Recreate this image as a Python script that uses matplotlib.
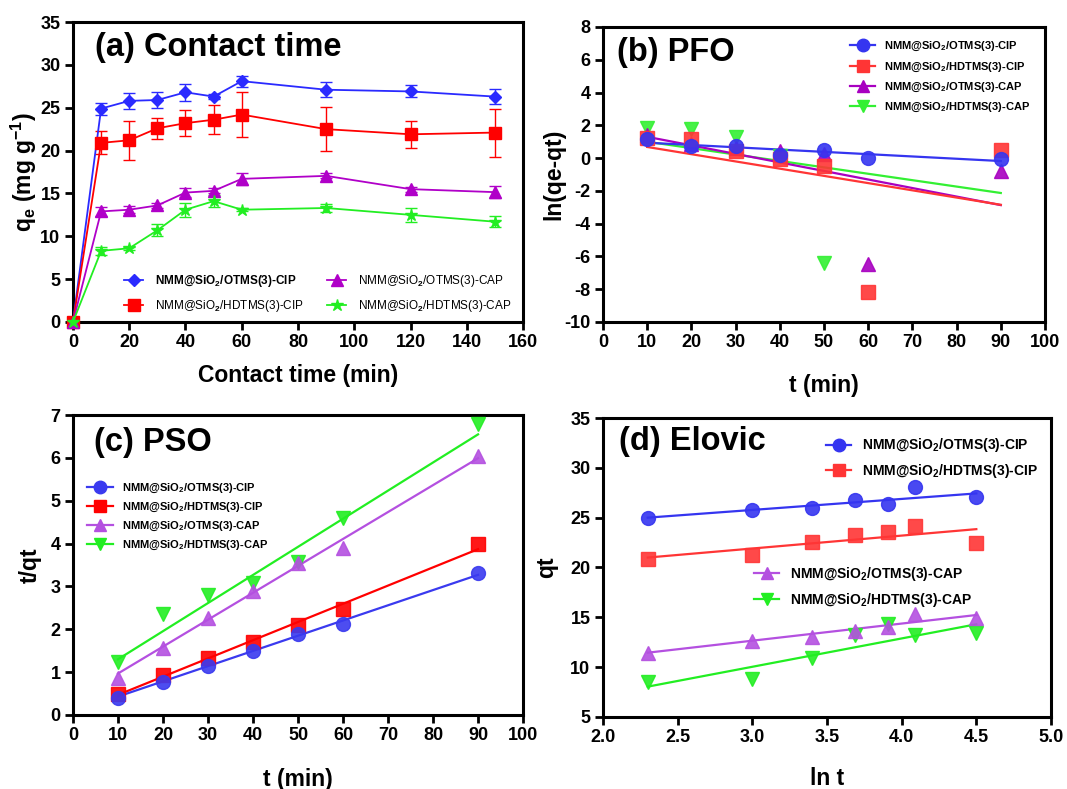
import matplotlib
matplotlib.use('Agg')
import matplotlib.pyplot as plt
from matplotlib.lines import Line2D
import numpy as np

plt.rcParams['font.family'] = ['Liberation Sans', 'DejaVu Sans']
plt.rcParams['font.weight'] = 'bold'
plt.rcParams['mathtext.fontset'] = 'custom'
plt.rcParams['mathtext.rm'] = 'Liberation Sans:bold'
plt.rcParams['mathtext.default'] = 'rm'
plt.rcParams['axes.unicode_minus'] = False

labels = ['NMM@SiO$_2$/OTMS(3)-CIP', 'NMM@SiO$_2$/HDTMS(3)-CIP',
          'NMM@SiO$_2$/OTMS(3)-CAP', 'NMM@SiO$_2$/HDTMS(3)-CAP']

# (a) contact time
t_a = [0, 10, 20, 30, 40, 50, 60, 90, 120, 150]
qa_otms_cip = [0, 24.9, 25.8, 25.9, 26.8, 26.3, 28.1, 27.1, 26.9, 26.3]
ea_otms_cip = [0, 0.7, 0.9, 0.9, 1.0, 0.3, 0.65, 0.9, 0.7, 0.9]
qa_hdtms_cip = [0, 20.9, 21.2, 22.6, 23.2, 23.6, 24.2, 22.5, 21.9, 22.1]
ea_hdtms_cip = [0, 1.35, 2.3, 1.2, 1.5, 1.7, 2.65, 2.6, 1.6, 2.8]
qa_otms_cap = [0, 12.9, 13.1, 13.6, 15.1, 15.3, 16.7, 17.05, 15.5, 15.15]
ea_otms_cap = [0, 0.55, 0.4, 0.3, 0.5, 0.3, 0.7, 0.3, 0.3, 0.7]
qa_hdtms_cap = [0, 8.3, 8.6, 10.7, 13.1, 14.1, 13.1, 13.3, 12.5, 11.7]
ea_hdtms_cap = [0, 0.5, 0.2, 0.7, 0.8, 0.7, 0.2, 0.5, 0.8, 0.65]

# (b) PFO: ln(qe-qt) and fitted lines (slope, intercept)
t_b = [10, 20, 30, 40, 50, 60, 90]
pfo_otms_cip = [1.15, 0.75, 0.72, 0.2, 0.52, 0.02, -0.03]
pfo_hdtms_cip = [1.2, 1.15, 0.43, -0.07, -0.5, -8.15, 0.5]
pfo_otms_cap = [1.4, 0.85, 0.6, 0.45, 0.23, -6.48, -0.77]
pfo_hdtms_cap = [1.82, 1.76, 1.3, 0.1, -6.38, np.nan, np.nan]
pfo_fit = [(-0.0140, 1.08), (-0.0441, 1.12), (-0.0521, 1.82), (-0.0391, 1.39)]

# (c) PSO: t/qt and fitted lines
t_c = [10, 20, 30, 40, 50, 60, 90]
pso_otms_cip = [0.39, 0.76, 1.15, 1.49, 1.88, 2.13, 3.31]
pso_hdtms_cip = [0.48, 0.93, 1.32, 1.71, 2.1, 2.48, 3.99]
pso_otms_cap = [0.87, 1.57, 2.27, 2.89, 3.55, 3.9, 6.05]
pso_hdtms_cap = [1.24, 2.35, 2.8, 3.07, 3.58, 4.6, 6.8]
pso_fit = [(0.0355, 0.075), (0.0425, 0.045), (0.0628, 0.34), (0.0656, 0.644)]

# (d) Elovich: qt vs ln t and fitted lines
lnt_d = [2.30, 3.00, 3.40, 3.69, 3.91, 4.09, 4.50]
el_otms_cip = [25.0, 25.8, 25.95, 26.8, 26.35, 28.05, 27.1]
el_hdtms_cip = [20.85, 21.25, 22.6, 23.25, 23.6, 24.2, 22.5]
el_otms_cap = [11.4, 12.6, 13.05, 13.6, 14.0, 15.3, 14.95]
el_hdtms_cap = [8.5, 8.78, 10.9, 13.25, 14.3, 13.2, 13.45]
el_fit = [(1.105, 22.46), (1.295, 18.02), (1.718, 7.50), (2.845, 1.50)]


def style_axes(ax):
    for s in ax.spines.values():
        s.set_linewidth(2.2)
    ax.tick_params(direction='out', length=6, width=2, labelsize=13, pad=3)
    for lab in ax.get_xticklabels() + ax.get_yticklabels():
        lab.set_fontweight('bold')


fig = plt.figure(figsize=(10.67, 7.89), dpi=100)
ax1 = fig.add_axes([0.0684, 0.5919, 0.4218, 0.3802])
ax2 = fig.add_axes([0.5651, 0.5919, 0.4143, 0.3739])
ax3 = fig.add_axes([0.0684, 0.0938, 0.4218, 0.3802])
ax4 = fig.add_axes([0.5651, 0.0913, 0.4199, 0.3789])

# ---- (a)
cols_a = ['#2a2aff', '#ff0000', '#b000c8', '#22ee22']
marks_a = ['D', 's', '^', '*']
msz_a = [6, 9, 9, 9]
series_a = [(qa_otms_cip, ea_otms_cip), (qa_hdtms_cip, ea_hdtms_cip),
            (qa_otms_cap, ea_otms_cap), (qa_hdtms_cap, ea_hdtms_cap)]
for (q, e), c, m, ms, lab in zip(series_a, cols_a, marks_a, msz_a, labels):
    ax1.errorbar(t_a, q, yerr=e, color=c, marker=m, markersize=ms, lw=1.3,
                 elinewidth=1, capsize=4, capthick=1, clip_on=False, zorder=3)
handles_a = [Line2D([], [], color=c, marker=m, markersize=ms, lw=1.3)
             for c, m, ms in zip(cols_a, marks_a, msz_a)]
ax1.set_xlim(0, 160)
ax1.set_ylim(0, 35)
ax1.set_xticks(range(0, 161, 20))
ax1.set_yticks(range(0, 36, 5))
ax1.set_xlabel('Contact time (min)', fontsize=16.5, fontweight='bold', labelpad=9)
ax1.set_ylabel('q$_e$ (mg g$^{-1}$)', fontsize=16.5, fontweight='bold', labelpad=1)
ax1.text(0.05, 0.915, '(a) Contact time', transform=ax1.transAxes, fontsize=23.5,
         fontweight='bold', va='center')
leg = ax1.legend(handles_a, labels, ncol=2, loc='lower left', bbox_to_anchor=(0.09, -0.01),
                 frameon=False, fontsize=8.5, handlelength=1.6, handletextpad=1.0,
                 columnspacing=2.0, labelspacing=0.8)
for i, txt in enumerate(leg.get_texts()):
    txt.set_fontweight('bold' if i == 0 else 'normal')
style_axes(ax1)

# ---- (b)
cols_b = ['#3535f0', '#ff3535', '#a800c0', '#33f033']
marks_b = ['o', 's', '^', 'v']
data_b = [pfo_otms_cip, pfo_hdtms_cip, pfo_otms_cap, pfo_hdtms_cap]
tt = np.array([10, 90])
order = [3, 2, 1, 0]
for i in order:
    k, b = pfo_fit[i]
    ax2.plot(tt, k * tt + b, color=cols_b[i], lw=1.6, zorder=2)
for i in order:
    ax2.plot(t_b, data_b[i], ls='none', marker=marks_b[i], color=cols_b[i],
             markersize=10, alpha=0.9, zorder=3)
handles_b = [Line2D([], [], color=c, marker=m, markersize=9, lw=1.6)
             for c, m in zip(cols_b, marks_b)]
ax2.legend(handles_b, labels, loc='upper right', bbox_to_anchor=(0.99, 0.99),
           frameon=False, fontsize=8, handlelength=2.3, labelspacing=0.65)
ax2.set_xlim(0, 100)
ax2.set_ylim(-10, 8)
ax2.set_xticks(range(0, 101, 10))
ax2.set_yticks(range(-10, 9, 2))
ax2.set_xlabel('t (min)', fontsize=16.5, fontweight='bold', labelpad=16)
ax2.set_ylabel('ln(qe-qt)', fontsize=16.5, fontweight='bold', labelpad=-1)
ax2.text(0.032, 0.912, '(b) PFO', transform=ax2.transAxes, fontsize=23.5,
         fontweight='bold', va='center')
style_axes(ax2)

# ---- (c)
cols_c = ['#3a3aef', '#ff0000', '#b450e0', '#22ee22']
data_c = [pso_otms_cip, pso_hdtms_cip, pso_otms_cap, pso_hdtms_cap]
for i in order:
    k, b = pso_fit[i]
    ax3.plot(tt, k * tt + b, color=cols_c[i], lw=1.6, zorder=2)
for i in order:
    ax3.plot(t_c, data_c[i], ls='none', marker=marks_b[i], color=cols_c[i],
             markersize=10, alpha=0.9, zorder=3)
handles_c = [Line2D([], [], color=c, marker=m, markersize=9, lw=1.6)
             for c, m in zip(cols_c, marks_b)]
ax3.legend(handles_c, labels, loc='upper left', bbox_to_anchor=(0.01, 0.81),
           frameon=False, fontsize=8, handlelength=2.3, labelspacing=0.5)
ax3.set_xlim(0, 100)
ax3.set_ylim(0, 7)
ax3.set_xticks(range(0, 101, 10))
ax3.set_yticks(range(0, 8, 1))
ax3.set_xlabel('t (min)', fontsize=16.5, fontweight='bold', labelpad=17)
ax3.set_ylabel('t/qt', fontsize=16.5, fontweight='bold', labelpad=6)
ax3.text(0.047, 0.907, '(c) PSO', transform=ax3.transAxes, fontsize=23.5,
         fontweight='bold', va='center')
style_axes(ax3)

# ---- (d)
cols_d = ['#3535f0', '#ff3535', '#b450e0', '#22ee22']
data_d = [el_otms_cip, el_hdtms_cip, el_otms_cap, el_hdtms_cap]
xx = np.array([2.30, 4.50])
for i in order:
    k, b = el_fit[i]
    ax4.plot(xx, k * xx + b, color=cols_d[i], lw=1.6, zorder=2)
for i in order:
    ax4.plot(lnt_d, data_d[i], ls='none', marker=marks_b[i], color=cols_d[i],
             markersize=10, alpha=0.9, zorder=3)
handles_d = [Line2D([], [], color=c, marker=m, markersize=9, lw=1.6)
             for c, m in zip(cols_d, marks_b)]
leg1 = ax4.legend(handles_d[:2], labels[:2], loc='upper left', bbox_to_anchor=(0.47, 0.98),
                  frameon=False, fontsize=10, handlelength=1.8, labelspacing=0.55)
ax4.add_artist(leg1)
ax4.legend(handles_d[2:], labels[2:], loc='upper left', bbox_to_anchor=(0.31, 0.55),
           frameon=False, fontsize=10, handlelength=1.8, labelspacing=0.55)
ax4.set_xlim(2.0, 5.0)
ax4.set_ylim(5, 35)
ax4.set_xticks(np.arange(2.0, 5.01, 0.5))
ax4.set_xticklabels([f'{v:.1f}' for v in np.arange(2.0, 5.01, 0.5)])
ax4.set_yticks(range(5, 36, 5))
ax4.set_xlabel('ln t', fontsize=16.5, fontweight='bold', labelpad=14.5)
ax4.set_ylabel('qt', fontsize=16.5, fontweight='bold', labelpad=9)
ax4.text(0.036, 0.92, '(d) Elovic', transform=ax4.transAxes, fontsize=23.5,
         fontweight='bold', va='center')
style_axes(ax4)

fig.savefig('out.png', dpi=100)
